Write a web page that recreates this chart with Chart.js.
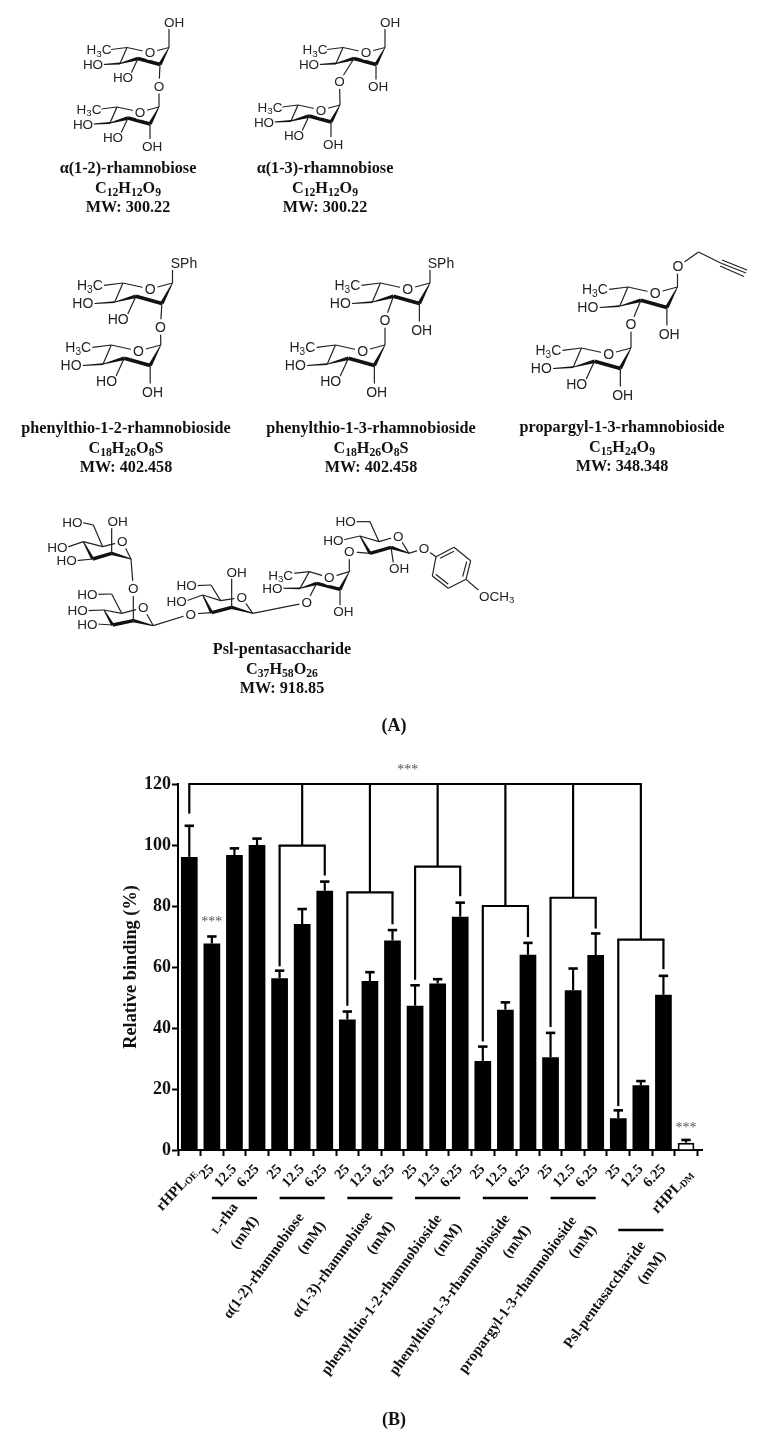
<!DOCTYPE html>
<html><head><meta charset="utf-8">
<style>
html,body{margin:0;padding:0;background:#fff;width:759px;height:1445px;overflow:hidden}
#c,#mol{position:absolute;left:0;top:0}
#c{filter:blur(.35px)}
#mol{filter:blur(.35px)}
.cap{position:absolute;width:320px;text-align:center;font:bold 16.2px/20px "Liberation Serif",serif;color:#111;white-space:nowrap;filter:blur(.25px)}
.cap .s{font-size:.72em;position:relative;top:.28em}
.pan{font-size:18px}
</style>
<script src="https://cdn.jsdelivr.net/npm/chart.js@4"></script>
</head><body>
<svg id="mol" width="759" height="745" xmlns="http://www.w3.org/2000/svg"></svg>
<div id="caps"></div>
<canvas id="c" width="759" height="1445"></canvas>
<script>
// ---------- chart data ----------
const categories = ['rHPLOE','25','12.5','6.25','25','12.5','6.25','25','12.5','6.25','25','12.5','6.25','25','12.5','6.25','25','12.5','6.25','25','12.5','6.25','rHPLDM'];
const values     = [96.1,67.7,96.7,100,56.3,74.1,85,42.8,55.4,68.7,47.3,54.6,76.5,29.2,46,64,30.4,52.4,63.9,10.4,21.2,50.9,2.4];
const errorTops  = [106.3,70,98.9,102.1,58.8,79,88,45.4,58.3,72.1,54,56,81.1,33.9,48.4,67.9,38.4,59.5,71,13,22.6,57.1,3.3];
const yTicks     = [0,20,40,60,80,100,120];
const groupNames = ['-rha','α(1-2)-rhamnobiose','α(1-3)-rhamnobiose','phenylthio-1-2-rhamnobioside','phenylthio-1-3-rhamnobioside','propargyl-1-3-rhamnobioside','Psl-pentasaccharide'];
const groupFirstBar = [1,4,7,10,13,16,19];
const bracketBars   = [4,7,10,13,16,19];       // first bar of each bracket
const bracketLevels = [99.8,84.5,92.9,80,82.7,69];
const bracketLeftEnd  = [60.2,47.3,55.8,35.6,40.3,14.4];
const bracketRightEnd = [90,74,83.2,69.8,72.6,59.3];
const starBars   = [1,9.68,22];
const starLevels = [75.4,125,7.9];
const hollowBar  = 22;

// ---------- layout (pixels, not data) ----------
const SERIF='"Liberation Serif",serif';
const groupCentres=[[225,1219],[264,1266],[332.5,1265],[382,1295],[450,1295],[518,1295],[605,1295]];
const unitCentres =[[245,1233],[312,1238],[381,1238],[448,1240],[517,1242],[583,1242],[652,1268]];
const rulerY=[1198,1198,1198,1198,1198,1198,1230];

function rich(ctx,x,y,deg,segs,size){
  ctx.save();ctx.translate(x,y);ctx.rotate(-deg*Math.PI/180);ctx.textBaseline='middle';ctx.textAlign='left';
  let w=0;segs.forEach(s=>{ctx.font='bold '+size*(s.k||1)+'px '+SERIF;s.w=ctx.measureText(s.t).width;w+=s.w});
  let p=-w/2;segs.forEach(s=>{ctx.font='bold '+size*(s.k||1)+'px '+SERIF;ctx.fillText(s.t,p,s.dy||0);p+=s.w});
  ctx.restore();
}
const annotations={id:'annotations',afterDatasetsDraw(chart){
  const {ctx,scales:{x,y}}=chart;
  const X=i=>x.getPixelForValue(Math.floor(i))+(i%1)*(x.getPixelForValue(1)-x.getPixelForValue(0));
  const Y=v=>y.getPixelForValue(v);
  const seg=(a,b,c,d,w)=>{ctx.lineWidth=w||2.2;ctx.beginPath();ctx.moveTo(a,b);ctx.lineTo(c,d);ctx.stroke()};
  ctx.save();ctx.strokeStyle='#000';ctx.fillStyle='#000';ctx.lineCap='butt';
  // x-axis extension past the last bar
  seg(x.right,Y(0),703,Y(0),2);
  // error bars
  values.forEach((v,i)=>{const c=X(i);seg(c,Y(v),c,Y(errorTops[i]),2.2);seg(c-4.7,Y(errorTops[i]),c+4.7,Y(errorTops[i]),2.6)});
  // top bracket
  seg(X(0)-1,Y(120),X(20)+1,Y(120));
  seg(X(0),Y(120),X(0),Y(110.3));
  bracketBars.forEach((b,i)=>{
    const l=X(b),m=X(b+1),r=X(b+2),lv=Y(bracketLevels[i]);
    seg(m,Y(120),m,lv);
    seg(l-1,lv,r+1,lv);
    seg(l,lv,l,Y(bracketLeftEnd[i]));
    seg(r,lv,r,Y(bracketRightEnd[i]));
  });
  // stars
  ctx.fillStyle='#555';ctx.font='14px '+SERIF;ctx.textAlign='center';ctx.textBaseline='middle';
  starBars.forEach((b,i)=>ctx.fillText('***',X(b),Y(starLevels[i])+2));
  ctx.fillStyle='#111';
  // sub-scripted end labels
  rich(ctx,176.7,1190,47,[{t:'rHPL'},{t:'OE',k:.66,dy:3}],15);
  rich(ctx,672.7,1192,47,[{t:'rHPL'},{t:'DM',k:.66,dy:3}],15);
  // group rulers and names
  groupFirstBar.forEach((b,i)=>{
    seg(X(b),rulerY[i],X(b+2),rulerY[i],2.4);
    const [gx,gy]=groupCentres[i],[ux,uy]=unitCentres[i];
    const segs=i===0?[{t:'L',k:.72},{t:groupNames[0]}]:[{t:groupNames[i]}];
    rich(ctx,gx,gy,54,segs,15);
    rich(ctx,ux,uy,54,[{t:'(mM)'}],15);
  });
  ctx.restore();
}};

new Chart(document.getElementById('c'),{
  type:'bar',
  data:{labels:categories,datasets:[{
    data:values,
    backgroundColor:c=>c.dataIndex===hollowBar?'#fff':'#000',
    borderColor:'#000',
    borderWidth:c=>c.dataIndex===hollowBar?2:0,
    barPercentage:.74,categoryPercentage:1
  }]},
  options:{
    responsive:false,animation:false,
    layout:{padding:{left:120,top:784,right:61.7,bottom:0}},
    plugins:{legend:{display:false},tooltip:{enabled:false}},
    scales:{
      x:{
        afterFit(s){s.height=295},
        grid:{display:true,drawOnChartArea:false,color:'#000',tickColor:'#000',tickWidth:2,tickLength:6},
        border:{color:'#000',width:2},
        ticks:{autoSkip:false,minRotation:47,maxRotation:47,color:'#111',padding:5,
          font:{family:SERIF,weight:'bold',size:14.5},
          callback(v,i){return (i===0||i===hollowBar)?'':categories[i]}}
      },
      y:{
        min:0,max:120,
        afterFit(s){s.width=58},
        afterBuildTicks(s){s.ticks=yTicks.map(v=>({value:v}))},
        grid:{display:true,drawOnChartArea:false,color:'#000',tickColor:'#000',tickWidth:2,tickLength:6},
        border:{color:'#000',width:2},
        title:{display:true,text:'Relative binding (%)',color:'#111',padding:0,font:{family:SERIF,weight:'bold',size:18.3}},
        ticks:{color:'#111',padding:1,font:{family:SERIF,weight:'bold',size:18}}
      }
    }
  },
  plugins:[annotations]
});

// ---------- panel A: captions ----------
const S=t=>'<span class="s">'+t+'</span>';
const captionLines=[
 [128,168,'α(1-2)-rhamnobiose'],[128,188,'C'+S(12)+'H'+S(12)+'O'+S(9)],[128,207,'MW: 300.22'],
 [325,168,'α(1-3)-rhamnobiose'],[325,188,'C'+S(12)+'H'+S(12)+'O'+S(9)],[325,207,'MW: 300.22'],
 [126,428,'phenylthio-1-2-rhamnobioside'],[126,448,'C'+S(18)+'H'+S(26)+'O'+S(8)+'S'],[126,467,'MW: 402.458'],
 [371,428,'phenylthio-1-3-rhamnobioside'],[371,448,'C'+S(18)+'H'+S(26)+'O'+S(8)+'S'],[371,467,'MW: 402.458'],
 [622,427,'propargyl-1-3-rhamnobioside'],[622,447,'C'+S(15)+'H'+S(24)+'O'+S(9)],[622,466,'MW: 348.348'],
 [282,649,'Psl-pentasaccharide'],[282,669,'C'+S(37)+'H'+S(58)+'O'+S(26)],[282,688,'MW: 918.85'],
];
const capsEl=document.getElementById('caps');
captionLines.forEach(([x,y,h])=>{const d=document.createElement('div');d.className='cap';d.style.left=(x-160)+'px';d.style.top=(y-10)+'px';d.innerHTML=h;capsEl.appendChild(d)});
[[394,725,'(A)'],[394,1419,'(B)']].forEach(([x,y,h])=>{const d=document.createElement('div');d.className='cap pan';d.style.left=(x-160)+'px';d.style.top=(y-10)+'px';d.textContent=h;capsEl.appendChild(d)});

// ---------- panel A: structures ----------
const svg=document.getElementById('mol');
let linesBuf=[],textBuf=[];
function L(a,b,c,d,w){linesBuf.push(`<line x1="${a}" y1="${b}" x2="${c}" y2="${d}" stroke="#222" stroke-width="${w||1.2}"/>`)}
function W(a,b,c,d,wa,wb){const dx=c-a,dy=d-b,n=Math.hypot(dx,dy),ux=-dy/n/2,uy=dx/n/2;
  linesBuf.push(`<polygon fill="#111" points="${a+ux*wa},${b+uy*wa} ${c+ux*wb},${d+uy*wb} ${c-ux*wb},${d-uy*wb} ${a-ux*wa},${b-uy*wa}"/>`)}
function T(x,y,parts,size){
  const body=parts.split('|').map((p,i)=>i%2?`<tspan font-size="${size*.72}" dy="${size*.25}">${p}</tspan><tspan dy="${-size*.25}">&#8203;</tspan>`:p).join('');
  if(parts==='O')textBuf.push(`<circle cx="${x}" cy="${y}" r="${size*.56}" fill="#fff"/>`);
  textBuf.push(`<text x="${x}" y="${y}" font-size="${size}" text-anchor="middle" dominant-baseline="central" font-family="Liberation Sans,Arial,sans-serif" fill="#222" stroke="#fff" stroke-width="${parts==='O'?0:3}" paint-order="stroke">${body}</text>`);
}
function rham(ox,oy,sx,sy,fs,o){
  const P=(x,y)=>[ox+x*sx,oy+y*sy];
  const C1=P(0,0),Ox=P(-19,5),C5=P(-42,0),C4=P(-49,16),C3=P(-31,11),C2=P(-9,17);
  L(...C5,...Ox);L(...Ox,...C1);L(...C4,...C5);
  W(...C1,...C2,.6,3.6);W(...C2,...C3,3.6,3.6);W(...C3,...C4,3.6,.8);
  T(...Ox,'O',fs);
  const m=P(-58,2);L(...C5,...m);T(...P(-70,2),'H|3|C',fs);
  const a=P(-66,17);W(...C4,...a,1.8,1);T(...P(-76,17),'HO',fs);
  if(o.oh3!==false){const b=P(-38,26);L(...C3,...b);T(...P(-46,30),'HO',fs);}
  else{L(...C3,...o.oh3to);}
  if(o.oh2!==false){const b=P(-9,32);L(...C2,...b);T(...P(-7,39),'OH',fs);}
  else if(o.oh2to){L(...C2,...o.oh2to);}
}
function biose(top,bot,sx,sy,fs,is13,oPos){
  rham(top[0],top[1],sx,sy,fs,is13?{oh3:false,oh3to:oPos,oh2:true}:{oh3:true,oh2:false,oh2to:oPos});
  rham(bot[0],bot[1],sx,sy,fs,{});
  L(oPos[0],oPos[1],bot[0],bot[1]);
  T(oPos[0],oPos[1],'O',fs);
}
// disaccharides
L(169,47.5,169,29);T(174,22,'OH',13.5);
biose([169,47.5],[159,107],1,1,13.5,false,[159,86]);
L(385,47.5,385,29);T(390,22,'OH',13.5);
biose([385,47.5],[340,105],1,1,13.5,true,[339.5,81.5]);
L(172.5,283,172.5,270);T(184,263,'SPh',14);
biose([172.5,283],[160.8,345],1.18,1.2,14,false,[160.5,327]);
L(430,283,430,270);T(441,263,'SPh',14);
biose([430,283],[385,345],1.18,1.2,14,true,[385,320]);
L(677.5,287,677.5,272);T(678,266,'O',14);
L(683,263,698.5,252);L(698.5,252,720.6,263);L(720.6,263,746,273);L(720,266,744,276.5);L(722,260,747,270);
biose([677.5,287],[631,348],1.18,1.2,14,true,[631,324]);

// pentasaccharide, drawn on a 3x grid
const Z=(x,y)=>[30+x/3,490+y/3];
const ZL=(a,b,c,d,w)=>L(...Z(a,b),...Z(c,d),w);
const ZW=(a,b,c,d,p,q)=>W(...Z(a,b),...Z(c,d),p,q);
const ZT=(x,y,t)=>T(...Z(x,y),t,13.5);
[[155,97,190,105],[190,105,218,170],[160,155,218,170],[218,170,277,155],[277,155,303,207],[245,115,245,190],[110,172,160,155],[140,212,188,207],[303,207,310,295],[310,295,310,392],
 [200,313,245,312],[245,312,275,370],[222,360,275,370],[275,370,340,353],[340,353,370,407],[172,362,222,360],[200,402,248,405],[370,407,482,372],
 [482,372,545,368],[518,315,572,332],[572,332,635,322],[635,322,668,370],[605,352,605,265],[498,287,543,285],[543,285,572,332],[468,333,518,315],[668,370,830,338],
 [790,250,838,245],[838,245,898,263],[898,263,958,245],[810,295,838,245],[830,338,860,280],[930,298,930,345],[958,245,958,185],
 [958,185,1020,190],[990,138,1047,155],[1047,155,1105,138],[1105,138,1137,190],[975,95,1020,95],[1020,95,1047,155],[938,150,990,138],[1083,172,1090,218],[1137,190,1182,175],
 [1182,175,1218,200],[1218,200,1272,172],[1272,172,1322,212],[1322,212,1308,268],[1308,268,1255,295],[1255,295,1207,258],[1207,258,1218,200],[1230,205,1272,184],[1310,215,1298,260],[1255,283,1217,253],[1308,268,1345,300]
].forEach(l=>ZL(...l));
[[160,155,188,207,1,3.2],[188,207,245,190,3.4,3.4],[245,190,303,207,3.4,1],
 [222,360,248,405,1,3.2],[248,405,310,392,3.4,3.4],[310,392,370,407,3.4,1],
 [518,315,545,368,1,3.2],[545,368,605,352,3.4,3.4],[605,352,668,370,3.4,1],
 [958,245,930,298,.6,3.4],[930,298,860,280,3.4,3.4],[860,280,810,295,3.4,.8],[810,295,755,295,1.8,1],
 [990,138,1020,190,1,3.2],[1020,190,1083,172,3.4,3.4],[1083,172,1137,190,3.4,1]
].forEach(l=>ZW(...l));
[[127,97,'HO'],[263,95,'OH'],[82,172,'HO'],[277,155,'O'],[110,212,'HO'],[310,295,'O'],[172,313,'HO'],[143,362,'HO'],[340,353,'O'],[172,402,'HO'],[482,372,'O'],
 [470,287,'HO'],[620,248,'OH'],[440,333,'HO'],[635,322,'O'],[752,255,'H|3|C'],[727,295,'HO'],[898,263,'O'],[830,338,'O'],[940,365,'OH'],[958,185,'O'],
 [947,95,'HO'],[910,150,'HO'],[1105,138,'O'],[1107,235,'OH'],[1182,175,'O'],[1400,318,'OCH|3|']
].forEach(t=>ZT(...t));
svg.innerHTML=linesBuf.join('')+textBuf.join('');
</script>
</body></html>
